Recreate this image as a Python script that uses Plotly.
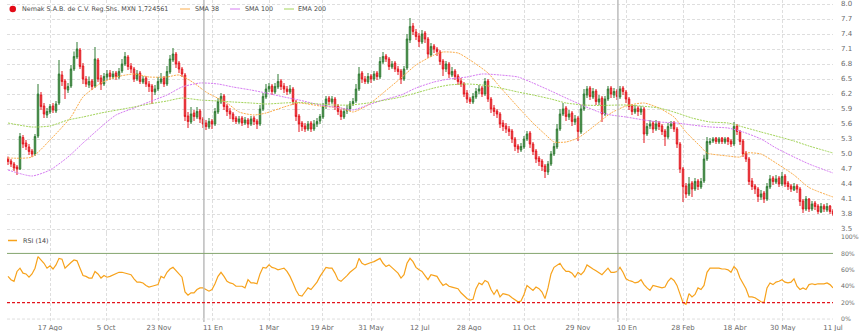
import plotly.graph_objects as go

# ---- daily bars (two-session bars), trading-day index 0..275 ----
bar_open = [
    4.90, 4.86, 4.80, 4.74, 4.70, 5.33, 5.22, 5.14, 5.06, 5.00,
    5.36, 6.18, 5.96, 5.78, 5.84, 5.96, 5.86, 6.02, 6.58, 6.46,
    6.28, 6.36, 6.70, 6.94, 7.08, 6.76, 6.50, 6.38, 6.46, 6.36,
    6.88, 6.52, 6.40, 6.54, 6.62, 6.54, 6.62, 6.54, 6.66, 6.80,
    6.94, 6.76, 6.70, 6.50, 6.62, 6.44, 6.52, 6.40, 6.36, 6.24,
    6.30, 6.44, 6.52, 6.40, 6.64, 6.88, 7.00, 6.82, 6.70, 6.58,
    5.76, 5.64, 5.82, 5.74, 5.86, 5.70, 5.62, 5.54, 5.66, 5.60,
    5.84, 6.04, 6.16, 5.96, 5.86, 5.80, 5.72, 5.64, 5.72, 5.62,
    5.68, 5.60, 5.72, 5.66, 5.60, 5.90, 6.14, 6.30, 6.36, 6.24,
    6.34, 6.46, 6.36, 6.30, 6.24, 6.30, 6.04, 5.76, 5.62, 5.56,
    5.50, 5.62, 5.50, 5.60, 5.66, 5.74, 5.96, 6.12, 6.04, 6.10,
    5.96, 5.86, 5.74, 5.86, 5.90, 6.00, 6.06, 6.30, 6.62, 6.50,
    6.44, 6.56, 6.50, 6.62, 6.54, 6.84, 6.96, 6.90, 6.74, 6.82,
    6.70, 6.66, 6.50, 6.72, 7.28, 7.56, 7.44, 7.36, 7.24, 7.42,
    7.30, 6.98, 7.16, 7.10, 7.04, 6.86, 6.70, 6.80, 6.58, 6.66,
    6.56, 6.46, 6.40, 6.22, 6.10, 6.04, 6.14, 6.26, 6.32, 6.20,
    6.46, 6.10, 5.92, 5.86, 5.80, 5.62, 5.56, 5.50, 5.46, 5.30,
    5.16, 5.08, 5.14, 5.30, 5.42, 5.20, 5.06, 4.92, 4.86, 4.76,
    4.64, 4.80, 5.00, 5.14, 5.50, 5.80, 5.92, 5.74, 5.82, 5.64,
    5.72, 5.44, 5.90, 6.18, 6.32, 6.14, 6.26, 6.04, 6.12, 5.80,
    6.10, 6.32, 6.18, 6.26, 6.14, 6.32, 6.24, 6.10, 5.96, 5.84,
    5.92, 5.84, 5.90, 5.40, 5.56, 5.62, 5.50, 5.62, 5.56, 5.46,
    5.34, 5.56, 5.62, 5.50, 5.20, 4.70, 4.36, 4.20, 4.42, 4.30,
    4.46, 4.34, 4.46, 4.90, 5.22, 5.26, 5.32, 5.24, 5.32, 5.24,
    5.32, 5.26, 5.20, 5.56, 5.44, 5.26, 5.02, 4.90, 4.46, 4.36,
    4.30, 4.14, 4.22, 4.10, 4.34, 4.52, 4.44, 4.52, 4.40, 4.56,
    4.42, 4.36, 4.28, 4.36, 4.30, 4.06, 3.90, 4.10, 3.90, 4.02,
    3.96, 3.84, 3.96, 3.88, 3.96, 3.86,
]
bar_high = [
    4.95, 4.90, 4.84, 4.78, 5.42, 5.38, 5.28, 5.20, 5.10, 5.40,
    6.40, 6.24, 6.02, 5.92, 6.00, 6.02, 6.06, 6.88, 6.66, 6.50,
    6.42, 6.78, 7.05, 7.24, 7.12, 6.82, 6.56, 6.55, 6.50, 7.14,
    6.92, 6.58, 6.62, 6.68, 6.68, 6.66, 6.66, 6.72, 6.90, 7.04,
    6.98, 6.82, 6.74, 6.68, 6.66, 6.56, 6.56, 6.46, 6.40, 6.38,
    6.54, 6.62, 6.56, 6.76, 6.98, 7.12, 7.04, 6.86, 6.74, 6.62,
    5.84, 5.94, 5.88, 5.94, 5.90, 5.74, 5.68, 5.72, 5.70, 5.92,
    6.12, 6.22, 6.20, 6.00, 5.92, 5.84, 5.76, 5.76, 5.76, 5.74,
    5.72, 5.76, 5.76, 5.70, 5.98, 6.22, 6.40, 6.42, 6.40, 6.42,
    6.60, 6.50, 6.42, 6.36, 6.38, 6.34, 6.08, 5.80, 5.66, 5.62,
    5.66, 5.66, 5.68, 5.72, 5.80, 6.02, 6.16, 6.16, 6.16, 6.14,
    6.00, 5.90, 5.92, 5.98, 6.06, 6.12, 6.40, 6.74, 6.66, 6.56,
    6.62, 6.60, 6.66, 6.66, 6.94, 7.04, 7.00, 6.94, 6.86, 6.86,
    6.76, 6.70, 6.76, 7.40, 7.72, 7.62, 7.50, 7.42, 7.48, 7.46,
    7.34, 7.22, 7.20, 7.14, 7.08, 6.90, 6.86, 6.84, 6.74, 6.70,
    6.60, 6.52, 6.44, 6.28, 6.14, 6.22, 6.32, 6.38, 6.36, 6.52,
    6.50, 6.14, 5.98, 5.90, 5.84, 5.68, 5.62, 5.56, 5.50, 5.34,
    5.20, 5.22, 5.36, 5.46, 5.46, 5.24, 5.10, 4.96, 4.90, 4.80,
    4.86, 5.06, 5.22, 5.60, 5.90, 6.02, 5.96, 5.88, 5.86, 5.78,
    5.76, 5.98, 6.30, 6.36, 6.36, 6.32, 6.30, 6.18, 6.16, 6.16,
    6.36, 6.36, 6.32, 6.30, 6.36, 6.36, 6.28, 6.14, 6.00, 5.98,
    5.96, 5.96, 5.94, 5.62, 5.68, 5.66, 5.68, 5.66, 5.60, 5.50,
    5.62, 5.66, 5.66, 5.54, 5.24, 4.74, 4.42, 4.54, 4.46, 4.52,
    4.50, 4.52, 4.98, 5.34, 5.32, 5.34, 5.34, 5.34, 5.34, 5.34,
    5.34, 5.30, 5.64, 5.60, 5.48, 5.30, 5.06, 4.94, 4.52, 4.40,
    4.34, 4.28, 4.26, 4.42, 4.58, 4.56, 4.58, 4.56, 4.64, 4.60,
    4.46, 4.40, 4.42, 4.40, 4.34, 4.10, 4.16, 4.12, 4.06, 4.06,
    4.00, 4.02, 4.00, 4.02, 3.98, 3.90,
]
bar_low = [
    4.78, 4.74, 4.66, 4.58, 4.68, 5.12, 5.08, 4.98, 4.94, 4.96,
    5.32, 5.88, 5.72, 5.72, 5.80, 5.82, 5.82, 5.98, 6.36, 6.10,
    6.22, 6.32, 6.66, 6.90, 6.70, 6.40, 6.34, 6.32, 6.28, 6.32,
    6.44, 6.28, 6.36, 6.48, 6.48, 6.50, 6.48, 6.50, 6.62, 6.76,
    6.68, 6.62, 6.44, 6.46, 6.40, 6.40, 6.34, 6.24, 6.00, 6.18,
    6.26, 6.40, 6.34, 6.36, 6.60, 6.84, 6.72, 6.62, 6.54, 5.66,
    5.52, 5.60, 5.66, 5.70, 5.62, 5.52, 5.48, 5.50, 5.50, 5.56,
    5.80, 6.00, 5.88, 5.76, 5.70, 5.64, 5.60, 5.60, 5.56, 5.58,
    5.52, 5.56, 5.58, 5.50, 5.56, 5.86, 6.10, 6.24, 6.18, 6.20,
    6.30, 6.28, 6.22, 6.18, 6.20, 5.98, 5.66, 5.44, 5.46, 5.44,
    5.46, 5.44, 5.46, 5.54, 5.60, 5.70, 5.90, 5.98, 6.00, 5.88,
    5.78, 5.68, 5.70, 5.80, 5.86, 5.96, 6.02, 6.26, 6.42, 6.40,
    6.40, 6.42, 6.46, 6.48, 6.50, 6.80, 6.84, 6.68, 6.70, 6.64,
    6.58, 6.40, 6.46, 6.68, 7.22, 7.38, 7.28, 7.14, 7.20, 7.22,
    6.92, 6.94, 7.02, 6.96, 6.78, 6.56, 6.64, 6.52, 6.54, 6.48,
    6.38, 6.34, 6.14, 6.02, 6.00, 6.00, 6.10, 6.20, 6.14, 6.16,
    6.04, 5.82, 5.76, 5.72, 5.52, 5.46, 5.42, 5.36, 5.22, 5.06,
    5.02, 5.04, 5.10, 5.26, 5.12, 4.98, 4.82, 4.76, 4.66, 4.52,
    4.58, 4.76, 4.96, 5.10, 5.46, 5.76, 5.66, 5.68, 5.56, 5.58,
    5.26, 5.40, 5.86, 6.12, 6.08, 6.10, 5.98, 5.98, 5.64, 5.76,
    6.06, 6.12, 6.12, 6.08, 6.10, 6.18, 6.02, 5.88, 5.78, 5.80,
    5.76, 5.78, 5.22, 5.36, 5.50, 5.42, 5.46, 5.48, 5.38, 5.16,
    5.30, 5.50, 5.44, 5.12, 4.62, 4.04, 4.12, 4.16, 4.14, 4.26,
    4.28, 4.30, 4.42, 4.86, 5.18, 5.22, 5.20, 5.20, 5.20, 5.20,
    5.18, 5.14, 5.16, 5.38, 5.18, 4.94, 4.84, 4.38, 4.28, 4.20,
    4.04, 4.08, 4.02, 4.06, 4.30, 4.38, 4.40, 4.34, 4.36, 4.34,
    4.28, 4.24, 4.26, 4.22, 3.96, 3.82, 3.86, 3.84, 3.86, 3.88,
    3.80, 3.82, 3.84, 3.84, 3.80, 3.76,
]
bar_close = [
    4.85, 4.80, 4.72, 4.70, 5.35, 5.20, 5.15, 5.05, 5.00, 5.35,
    6.20, 5.95, 5.80, 5.85, 5.95, 5.88, 6.00, 6.60, 6.45, 6.30,
    6.35, 6.70, 6.95, 7.10, 6.75, 6.50, 6.40, 6.45, 6.35, 6.90,
    6.50, 6.40, 6.55, 6.60, 6.55, 6.60, 6.55, 6.65, 6.80, 6.95,
    6.75, 6.70, 6.50, 6.60, 6.45, 6.50, 6.40, 6.35, 6.25, 6.30,
    6.45, 6.50, 6.40, 6.65, 6.90, 7.00, 6.80, 6.70, 6.60, 5.75,
    5.65, 5.80, 5.75, 5.85, 5.70, 5.60, 5.55, 5.65, 5.60, 5.85,
    6.05, 6.15, 5.95, 5.85, 5.80, 5.70, 5.65, 5.70, 5.62, 5.68,
    5.60, 5.70, 5.65, 5.60, 5.90, 6.15, 6.30, 6.35, 6.25, 6.35,
    6.45, 6.35, 6.30, 6.25, 6.30, 6.05, 5.75, 5.60, 5.55, 5.50,
    5.60, 5.50, 5.60, 5.65, 5.75, 5.95, 6.10, 6.05, 6.10, 5.95,
    5.85, 5.75, 5.85, 5.90, 6.00, 6.05, 6.30, 6.60, 6.50, 6.45,
    6.55, 6.50, 6.60, 6.55, 6.85, 6.95, 6.90, 6.75, 6.80, 6.70,
    6.65, 6.50, 6.70, 7.30, 7.55, 7.45, 7.35, 7.25, 7.40, 7.30,
    7.00, 7.15, 7.10, 7.05, 6.85, 6.70, 6.80, 6.60, 6.65, 6.55,
    6.45, 6.40, 6.20, 6.10, 6.05, 6.15, 6.25, 6.30, 6.20, 6.45,
    6.10, 5.90, 5.85, 5.80, 5.60, 5.55, 5.50, 5.45, 5.30, 5.15,
    5.10, 5.15, 5.30, 5.40, 5.20, 5.05, 4.90, 4.85, 4.75, 4.65,
    4.80, 5.00, 5.15, 5.50, 5.80, 5.90, 5.75, 5.80, 5.65, 5.70,
    5.45, 5.90, 6.20, 6.30, 6.15, 6.25, 6.05, 6.10, 5.80, 6.10,
    6.30, 6.20, 6.25, 6.15, 6.30, 6.25, 6.10, 5.95, 5.85, 5.90,
    5.85, 5.90, 5.40, 5.55, 5.60, 5.50, 5.60, 5.55, 5.45, 5.35,
    5.55, 5.60, 5.50, 5.20, 4.70, 4.35, 4.20, 4.40, 4.30, 4.45,
    4.35, 4.45, 4.90, 5.25, 5.25, 5.30, 5.25, 5.30, 5.25, 5.30,
    5.25, 5.20, 5.55, 5.45, 5.25, 5.00, 4.90, 4.45, 4.35, 4.30,
    4.15, 4.20, 4.10, 4.35, 4.50, 4.45, 4.50, 4.40, 4.55, 4.40,
    4.35, 4.30, 4.35, 4.30, 4.05, 3.90, 4.10, 3.90, 4.00, 3.95,
    3.85, 3.95, 3.90, 3.95, 3.85, 3.80,
]
rsi_14 = [
    52, 48, 46, 58, 62, 56, 55, 51, 55, 62,
    76, 72, 68, 62, 65, 61, 66, 74, 73, 62,
    66, 69, 72, 71, 62, 53, 52, 50, 50, 58,
    55, 50, 53, 51, 52, 54, 56, 57, 57, 56,
    55, 54, 49, 45, 45, 44, 41, 39, 40, 41,
    42, 52, 50, 57, 61, 63, 59, 55, 51, 33,
    29, 32, 32, 36, 38, 38, 36, 34, 36, 43,
    52, 57, 52, 46, 44, 43, 40, 40, 40, 38,
    48, 44, 44, 43, 55, 63, 62, 66, 63, 62,
    60, 61, 62, 58, 52, 44, 35, 29, 28, 33,
    38, 36, 40, 45, 52, 58, 63, 62, 62, 56,
    48, 46, 49, 53, 57, 60, 63, 74, 68, 66,
    68, 69, 70, 72, 74, 68, 64, 66, 63, 59,
    56, 50, 54, 68, 74, 70, 63, 60, 58, 53,
    48, 54, 53, 52, 46, 41, 43, 40, 39, 38,
    37, 32, 28, 25, 23, 24, 37, 44, 42, 47,
    45, 36, 30, 36, 27, 31, 30, 29, 26, 23,
    21, 22, 30, 41, 38, 35, 39, 37, 33, 25,
    38, 55, 63, 66, 68, 62, 58, 58, 56, 51,
    57, 54, 58, 66, 63, 61, 59, 57, 54, 58,
    62, 57, 57, 58, 63, 57, 49, 47, 46, 44,
    45, 48, 42, 38, 35, 41, 40, 39, 38, 39,
    46, 50, 47, 41, 29, 20, 18, 31, 27, 30,
    38, 36, 41, 57, 62, 62, 62, 62, 61, 61,
    60, 57, 64, 60, 50, 43, 37, 27, 27, 26,
    23, 21, 20, 38, 44, 42, 45, 46, 48, 45,
    44, 45, 49, 40, 36, 38, 36, 42, 43, 42,
    43, 43, 43, 44, 42, 38,
]

# ---- moving averages, sampled on the same day index ----
sma38_day = [0, 8, 14, 21, 25, 31, 36, 42, 47, 53, 57, 62, 66, 73, 77, 82, 86, 92, 97, 104,
             111, 115, 120, 125, 131, 136, 142, 145, 150, 154, 160, 164, 170, 175, 180, 182,
             186, 190, 195, 201, 206, 212, 217, 222, 226, 231, 233, 240, 244, 246, 251, 256,
             262, 267, 275]
sma38_val = [4.92, 4.94, 5.28, 5.74, 6.14, 6.42, 6.54, 6.60, 6.54, 6.54, 6.58, 6.42, 6.24,
             6.02, 5.84, 5.78, 5.82, 5.94, 6.02, 5.96, 5.92, 5.84, 5.98, 6.22, 6.52, 6.78,
             6.98, 7.04, 7.02, 6.88, 6.62, 6.34, 5.94, 5.62, 5.34, 5.24, 5.24, 5.32, 5.54,
             5.82, 5.96, 6.02, 5.92, 5.74, 5.44, 5.14, 5.02, 4.96, 4.94, 5.02, 5.00, 4.82,
             4.58, 4.33, 4.14]
sma100_day = [0, 8, 14, 20, 25, 31, 36, 42, 47, 53, 58, 64, 70, 75, 81, 86, 92, 97, 104, 111,
              115, 120, 125, 131, 136, 142, 147, 153, 158, 164, 170, 175, 181, 186, 192, 197,
              201, 206, 212, 217, 223, 228, 234, 240, 245, 251, 256, 262, 267, 275]
sma100_val = [4.68, 4.56, 4.68, 4.94, 5.22, 5.54, 5.78, 5.92, 6.04, 6.18, 6.34, 6.42, 6.40,
              6.34, 6.28, 6.22, 6.14, 6.08, 5.98, 5.92, 5.88, 5.98, 6.08, 6.18, 6.32, 6.44,
              6.50, 6.54, 6.60, 6.58, 6.54, 6.42, 6.26, 6.12, 5.96, 5.84, 5.78, 5.74, 5.68,
              5.64, 5.62, 5.58, 5.54, 5.52, 5.44, 5.30, 5.12, 4.94, 4.80, 4.62]
ema200_day = [0, 8, 14, 20, 25, 31, 42, 47, 53, 58, 64, 70, 75, 81, 86, 92, 97, 108, 114, 120,
              131, 142, 147, 153, 158, 164, 170, 175, 181, 186, 192, 197, 206, 217, 223, 228,
              234, 240, 245, 251, 256, 262, 267, 275]
ema200_val = [5.62, 5.54, 5.56, 5.68, 5.74, 5.82, 5.94, 6.00, 6.06, 6.12, 6.08, 6.06, 6.04,
              6.02, 6.00, 6.02, 6.03, 5.98, 5.98, 6.02, 6.14, 6.32, 6.38, 6.40, 6.38, 6.32,
              6.24, 6.18, 6.10, 6.02, 5.98, 5.97, 5.98, 5.92, 5.82, 5.72, 5.64, 5.62, 5.54,
              5.44, 5.36, 5.26, 5.16, 5.02]

# ---- axis labels ----
tick_day = [14, 32.7, 50.3, 68.3, 87, 104.7, 121, 137.3, 153.7, 172, 190, 206.3, 225,
            242.3, 258.3, 275]
tick_text = ["17 Ago", "5 Oct", "23 Nov", "11 En", "1 Mar", "19 Abr", "31 May", "12 Jul",
             "28 Ago", "11 Oct", "29 Nov", "10 En", "28 Feb", "18 Abr", "30 May", "11 Jul"]
year_start_day = [65.3, 203.3]
price_ticks = [3.5, 3.8, 4.1, 4.4, 4.7, 5.0, 5.3, 5.6, 5.9, 6.2, 6.5, 6.8, 7.1, 7.4, 7.7, 8.0]
rsi_ticks = [0, 20, 40, 60, 80, 100]
rsi_tick_text = ["0%", "20%", "40%", "60%", "80%", "100%"]
rsi_levels = {"overbought": 80, "oversold": 20}

instrument = "Nemak S.A.B. de C.V. Reg.Shs. MXN 1,724561"

W, H = 860, 331
ML, MR = 7, 27
FONT = "DejaVu Sans"
GRID = "#dedede"
GRID_DASH = "3px,2px"
ORANGE = "#fbad4c"
VIOLET = "#d67cf2"
LIME = "#a3d45a"
RSI_COL = "#f7a21b"
LABEL = "#6a6a6a"

day = list(range(len(bar_close)))


def px_x(p):
    return (p - ML) / (W - ML - MR)


def px_y(p):
    return 1 - p / H


fig = go.Figure()

fig.add_trace(go.Candlestick(
    x=day, open=bar_open, high=bar_high, low=bar_low, close=bar_close,
    xaxis="x", yaxis="y", whiskerwidth=0,
    increasing=dict(line=dict(color="#2e7a32", width=1), fillcolor="#78ad78"),
    decreasing=dict(line=dict(color="#e3141c", width=1), fillcolor="#ee7c7c"),
    hoverinfo="skip", showlegend=False,
))

for d, v, c in [(sma38_day, sma38_val, ORANGE), (sma100_day, sma100_val, VIOLET),
                (ema200_day, ema200_val, LIME)]:
    fig.add_trace(go.Scatter(
        x=d, y=v, mode="lines", xaxis="x", yaxis="y",
        line=dict(color=c, width=1, dash="2px,1px", shape="spline", smoothing=0.6),
        hoverinfo="skip", showlegend=False,
    ))

fig.add_trace(go.Scatter(
    x=day, y=rsi_14, mode="lines", xaxis="x2", yaxis="y2",
    line=dict(color=RSI_COL, width=1.2), hoverinfo="skip", showlegend=False,
))

price_dom = [px_y(233), 1.0]
rsi_dom = [px_y(322), px_y(233)]

xaxis_common = dict(
    range=[-1 / 3, 275], tickmode="array", tickvals=tick_day, ticktext=tick_text,
    showgrid=True, gridcolor=GRID, griddash=GRID_DASH, gridwidth=1,
    zeroline=False, showline=False, ticks="", fixedrange=True,
)

fig.update_layout(
    width=W, height=H,
    margin=dict(l=ML, r=MR, t=0, b=0),
    paper_bgcolor="white", plot_bgcolor="white",
    font=dict(family=FONT, size=7, color=LABEL),
    showlegend=False,
    xaxis=dict(**xaxis_common, anchor="y", showticklabels=False,
               rangeslider=dict(visible=False)),
    xaxis2=dict(**xaxis_common, anchor="y2", matches="x", showticklabels=True,
                tickfont=dict(family=FONT, size=7, color=LABEL)),
    yaxis=dict(domain=price_dom, range=[3.42, 8.08], side="right", tickmode="array",
               tickvals=price_ticks, tickformat=".1f", showgrid=True, gridcolor=GRID,
               griddash=GRID_DASH, zeroline=False, showline=False, ticks="",
               ticklabelstandoff=7, tickfont=dict(family=FONT, size=7, color=LABEL)),
    yaxis2=dict(domain=rsi_dom, range=[-3.6, 104.9], side="right", tickmode="array",
                tickvals=rsi_ticks, ticktext=rsi_tick_text, showgrid=False,
                zeroline=False, showline=False, ticks="", ticklabelstandoff=7,
                tickfont=dict(family=FONT, size=6.2, color=LABEL)),
)

shapes = []
# year separators across both panels
for d in year_start_day:
    shapes.append(dict(type="line", xref="x", yref="paper", x0=d, x1=d,
                       y0=rsi_dom[0], y1=1, line=dict(color="#bcbcbc", width=1.5)))
# RSI bottom rule
shapes.append(dict(type="line", xref="x2 domain", yref="y2", x0=0, x1=1, y0=0, y1=0,
                   line=dict(color=GRID, width=1, dash=GRID_DASH)))
# RSI levels
shapes.append(dict(type="line", xref="x2 domain", yref="y2", x0=0, x1=1,
                   y0=rsi_levels["overbought"], y1=rsi_levels["overbought"],
                   line=dict(color="#84a56e", width=1)))
shapes.append(dict(type="line", xref="x2 domain", yref="y2", x0=0, x1=1,
                   y0=rsi_levels["oversold"], y1=rsi_levels["oversold"],
                   line=dict(color="#e3141c", width=1.2, dash="3px,2px")))

# legend keys
ly = px_y(9)
shapes.append(dict(type="circle", xref="paper", yref="paper",
                   x0=px_x(9.5), x1=px_x(16), y0=px_y(5.8), y1=px_y(12.2),
                   fillcolor="#e30b17", line=dict(width=0)))
for x0, c in [(180, ORANGE), (230, VIOLET), (284, LIME)]:
    shapes.append(dict(type="line", xref="paper", yref="paper", x0=px_x(x0),
                       x1=px_x(x0 + 10), y0=ly, y1=ly, line=dict(color=c, width=1)))
ry = px_y(240.5)
shapes.append(dict(type="line", xref="paper", yref="paper", x0=px_x(8), x1=px_x(17),
                   y0=ry, y1=ry, line=dict(color=RSI_COL, width=1.5)))
fig.update_layout(shapes=shapes)

annotations = []
for x0, t in [(20, instrument), (193, "SMA 38"), (243, "SMA 100"), (296, "EMA 200")]:
    annotations.append(dict(text=t, xref="paper", yref="paper", x=px_x(x0), y=ly,
                            xanchor="left", yanchor="middle", showarrow=False,
                            font=dict(family=FONT, size=6.4, color="#4a4a4a")))
annotations.append(dict(text="RSI (14)", xref="paper", yref="paper", x=px_x(21), y=ry,
                        xanchor="left", yanchor="middle", showarrow=False,
                        font=dict(family=FONT, size=6.4, color="#4a4a4a")))
fig.update_layout(annotations=annotations)

fig.write_html("out.html")
